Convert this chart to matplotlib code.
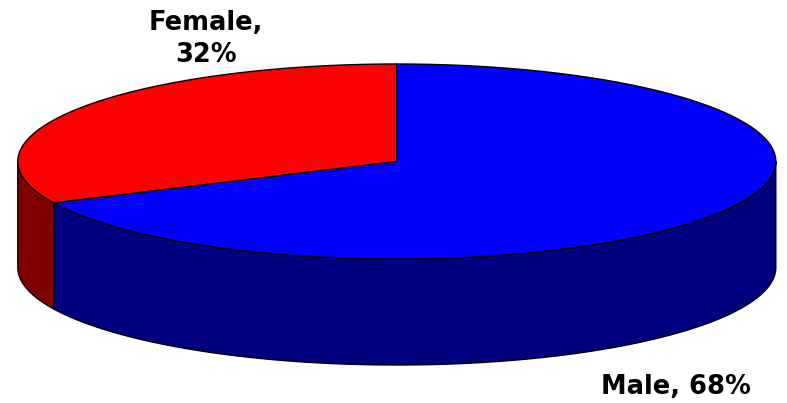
import numpy as np
import matplotlib
matplotlib.use("Agg")
import matplotlib.pyplot as plt
from matplotlib.patches import Polygon

# Data
labels = ["Female", "Male"]
shares = [32, 68]
top_colors = ["#FF0000", "#0000FF"]
side_colors = ["#800000", "#000080"]

# Geometry of the 3-D disc, in pixel units
cx, cy = 396.8, 161.5
rx, ry = 379.0, 97.5
depth = 106.0
start_angle = 90.0

W, H = 787, 403
fig = plt.figure(figsize=(W / 100, H / 100), dpi=100)
ax = fig.add_axes([0, 0, 1, 1])
ax.set_xlim(0, W)
ax.set_ylim(H, 0)
ax.axis("off")


def arc(a0, a1, dy=0.0, n=200):
    t = np.radians(np.linspace(a0, a1, n))
    return np.column_stack([cx + rx * np.cos(t), cy - ry * np.sin(t) + dy])


# Angular extent of every slice (counter-clockwise from 12 o'clock)
total = float(sum(shares))
bounds = []
a = start_angle
for v in shares:
    span = 360.0 * v / total
    bounds.append((a, a + span))
    a += span

# Side walls: only the front half (180..360 deg) is visible
for (a0, a1), col in zip(bounds, side_colors):
    for shift in (0.0, 360.0, -360.0):
        lo = max(a0 + shift, 180.0)
        hi = min(a1 + shift, 360.0)
        if hi > lo:
            top = arc(lo, hi)
            bot = arc(hi, lo, dy=depth)
            ax.add_patch(Polygon(np.vstack([top, bot]), closed=True,
                                 facecolor=col, edgecolor="black",
                                 linewidth=1.0, joinstyle="round"))

# Top faces
for (a0, a1), col in zip(bounds, top_colors):
    pts = np.vstack([[cx, cy], arc(a0, a1)])
    ax.add_patch(Polygon(pts, closed=True, facecolor=col,
                         edgecolor="black", linewidth=1.0, joinstyle="round"))

# Labels
font = dict(fontsize=18.5, fontweight="bold", family="DejaVu Sans",
            color="black", ha="center", va="center")
ax.text(206, 39, f"{labels[0]},\n{shares[0]}%", linespacing=1.35, **font)
ax.text(676, 387, f"{labels[1]}, {shares[1]}%", **font)

fig.savefig("out.png", dpi=100)
